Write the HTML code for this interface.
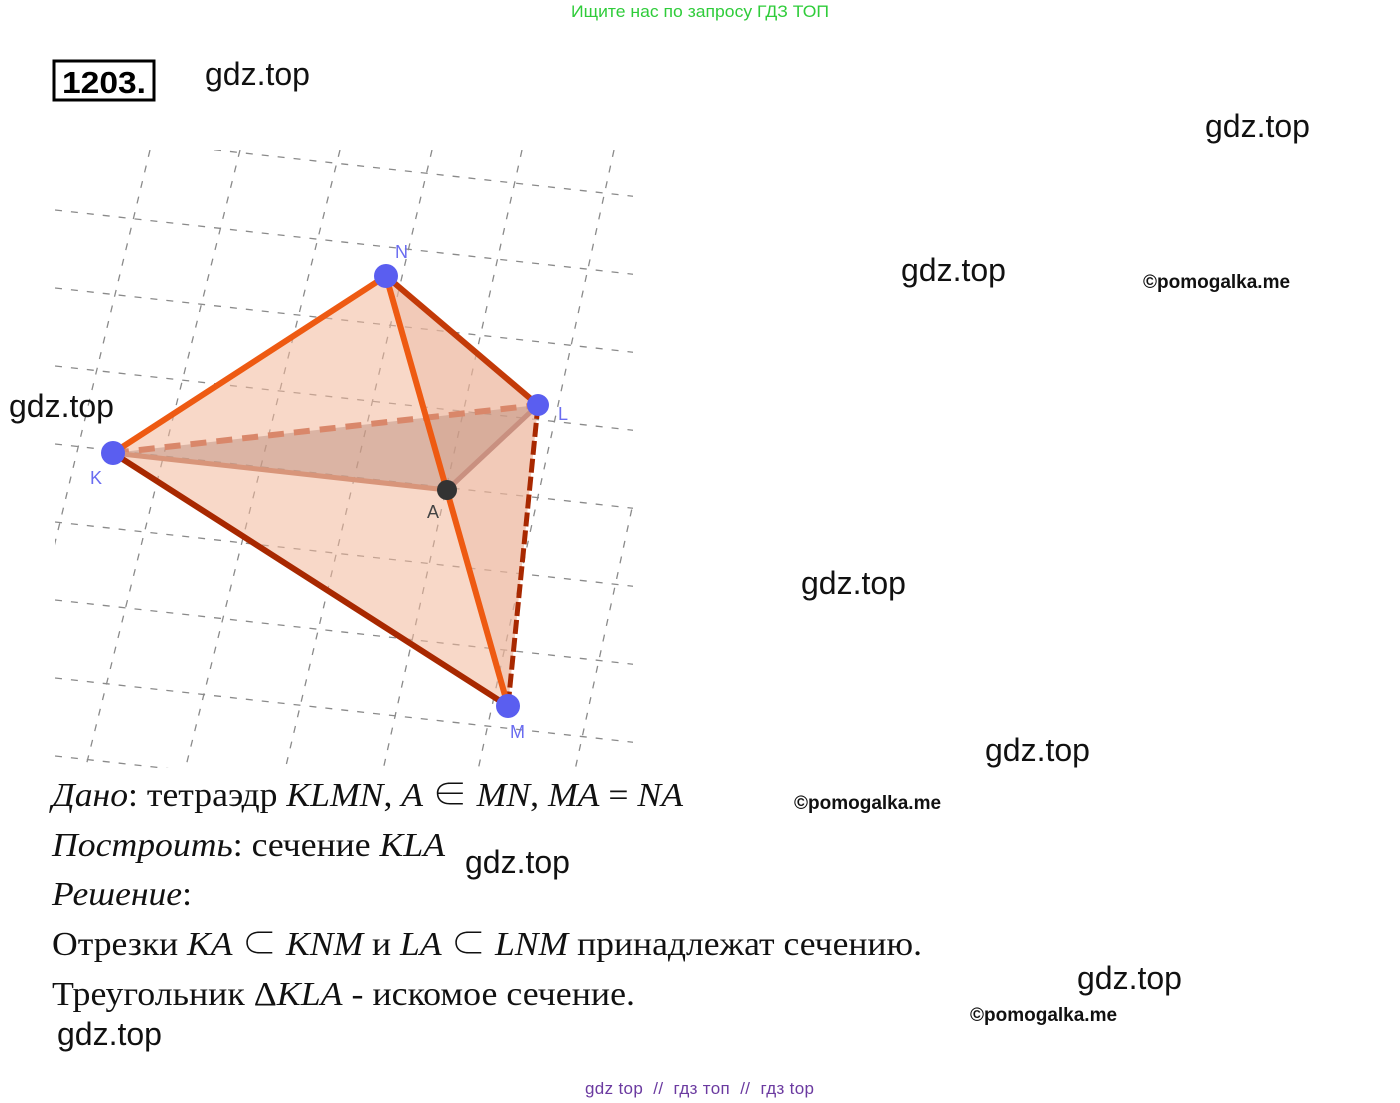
<!DOCTYPE html>
<html><head><meta charset="utf-8"><style>
html,body{margin:0;padding:0;background:#fff;}
svg{display:block;}
.w{font-family:"Liberation Sans",sans-serif;font-size:32px;fill:#111;}
.p{font-family:"Liberation Sans",sans-serif;font-size:19px;font-weight:bold;fill:#111;}
.m{font-family:"Liberation Serif","Noto Serif CJK SC",serif;font-size:34px;fill:#111;}
.i{font-style:italic;}
</style></head><body>
<svg width="1400" height="1103" viewBox="0 0 1400 1103" xmlns="http://www.w3.org/2000/svg">
<defs><clipPath id="c"><rect x="55" y="150" width="578" height="618"/></clipPath></defs>
<text x="700" y="17" text-anchor="middle" font-family="Liberation Sans,sans-serif" font-size="17" fill="#2fcc3a" textLength="258" lengthAdjust="spacingAndGlyphs">Ищите нас по запросу ГДЗ ТОП</text>
<rect x="54" y="61" width="100" height="39" fill="none" stroke="#000" stroke-width="3"/>
<text x="104" y="93" text-anchor="middle" font-family="Liberation Sans,sans-serif" font-weight="bold" font-size="31" fill="#000" textLength="84" lengthAdjust="spacingAndGlyphs">1203.</text>
<g clip-path="url(#c)" stroke="#8a8a8a" stroke-width="1.3" stroke-dasharray="7,9" fill="none">
<path d="M55 210L640 275M55 288L640 353M55 366L640 431M55 444L640 509M55 522L640 587M55 600L640 665M55 678L640 743M55 756L640 821M55 132L640 197"/>
<path d="M150 150L0 770M240 150L85 770M340 150L185 770M432 150L285 770M522 150L383 770M614 150L478 770M710 150L575 770"/>
</g>
<polygon points="113,453 386,276 538,405 508,706" fill="#f2b89a" fill-opacity="0.55"/>
<polygon points="386,276 538,405 508,706 447,490" fill="#e7b39a" fill-opacity="0.35"/>
<polygon points="113,453 538,405 447,490" fill="#b98a78" fill-opacity="0.45"/>
<line x1="113" y1="453" x2="538" y2="405" stroke="#d9876a" stroke-width="6" stroke-dasharray="16,10"/>
<line x1="113" y1="453" x2="447" y2="490" stroke="#d8957a" stroke-width="5"/>
<line x1="447" y1="490" x2="538" y2="405" stroke="#c99080" stroke-width="5"/>
<line x1="538" y1="405" x2="508" y2="706" stroke="#a82800" stroke-width="5" stroke-dasharray="14,4"/>
<line x1="113" y1="453" x2="508" y2="706" stroke="#a82800" stroke-width="6"/>
<line x1="386" y1="276" x2="538" y2="405" stroke="#c33a08" stroke-width="6"/>
<line x1="113" y1="453" x2="386" y2="276" stroke="#ee5a12" stroke-width="6"/>
<line x1="386" y1="276" x2="508" y2="706" stroke="#ee5a12" stroke-width="6"/>
<g fill="#5a5ef0"><circle cx="386" cy="276" r="12"/><circle cx="538" cy="405" r="11"/><circle cx="113" cy="453" r="12"/><circle cx="508" cy="706" r="12"/></g>
<circle cx="447" cy="490" r="10" fill="#333"/>
<g font-family="Liberation Sans,sans-serif" font-size="18" fill="#6a6cf0"><text x="395" y="258">N</text><text x="558" y="420">L</text><text x="90" y="484">K</text><text x="510" y="738">M</text></g>
<text x="427" y="518" font-family="Liberation Sans,sans-serif" font-size="18" fill="#444">A</text>
<text class="m" x="52" y="806" textLength="631" lengthAdjust="spacingAndGlyphs"><tspan class="i">Дано</tspan>: тетраэдр <tspan class="i">KLMN</tspan>, <tspan class="i">A</tspan> ∈ <tspan class="i">MN</tspan>, <tspan class="i">MA</tspan> = <tspan class="i">NA</tspan></text>
<text class="m" x="52" y="856" textLength="393" lengthAdjust="spacingAndGlyphs"><tspan class="i">Построить</tspan>: сечение <tspan class="i">KLA</tspan></text>
<text class="m" x="52" y="905" textLength="140" lengthAdjust="spacingAndGlyphs"><tspan class="i">Решение</tspan>:</text>
<text class="m" x="52" y="955" textLength="870" lengthAdjust="spacingAndGlyphs">Отрезки <tspan class="i">KA</tspan> ⊂ <tspan class="i">KNM</tspan> и <tspan class="i">LA</tspan> ⊂ <tspan class="i">LNM</tspan>  принадлежат сечению.</text>
<text class="m" x="52" y="1005" textLength="583" lengthAdjust="spacingAndGlyphs">Треугольник Δ<tspan class="i">KLA</tspan> - искомое сечение.</text>
<text class="w" x="205" y="85">gdz.top</text>
<text class="w" x="1205" y="137">gdz.top</text>
<text class="w" x="901" y="281">gdz.top</text>
<text class="w" x="9" y="417">gdz.top</text>
<text class="w" x="801" y="594">gdz.top</text>
<text class="w" x="985" y="761">gdz.top</text>
<text class="w" x="465" y="873">gdz.top</text>
<text class="w" x="1077" y="989">gdz.top</text>
<text class="w" x="57" y="1045">gdz.top</text>
<text class="p" x="1143" y="288">©pomogalka.me</text>
<text class="p" x="794" y="809">©pomogalka.me</text>
<text class="p" x="970" y="1021">©pomogalka.me</text>
<text x="585" y="1094" font-family="Liberation Sans,sans-serif" font-size="17" fill="#6b3aa0" textLength="229" lengthAdjust="spacing" xml:space="preserve">gdz top  //  гдз топ  //  гдз top</text>
</svg>
</body></html>
